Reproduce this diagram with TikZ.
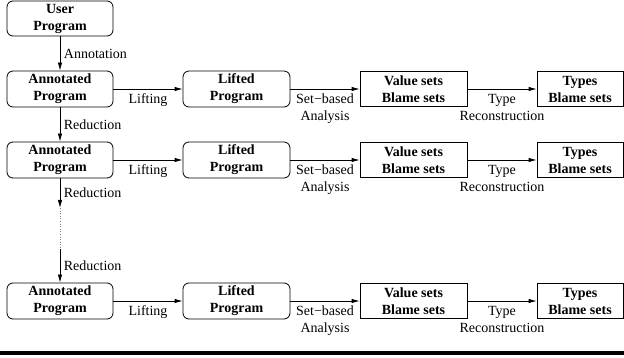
\documentclass[tikz,border=0pt]{standalone}
\usepackage{fontspec}
\setmainfont{Liberation Serif}
\usetikzlibrary{arrows.meta}
\begin{document}
\begin{tikzpicture}[x=1pt,y=-1pt,
  every node/.style={font=\fontsize{14}{17}\selectfont},
  prog/.style={draw, line width=0.8pt, rounded corners=6pt, align=center,
    font=\fontsize{14}{17}\selectfont\bfseries, minimum height=36pt, inner sep=0pt},
  sbox/.style={draw, line width=0.8pt, align=center,
    font=\fontsize{14}{17}\selectfont\bfseries, minimum height=35pt, inner sep=0pt},
  arr/.style={line width=0.8pt, -{Latex[length=8pt,width=4.5pt]}},
  hlbl/.style={below, align=center, inner sep=0pt, yshift=-4.5pt},
  vlbl/.style={right, inner sep=0pt, xshift=3.5pt}]
\useasboundingbox (0,0) rectangle (624,358);

% nodes
\node[prog, minimum width=106pt, minimum height=35pt] (u) at (60,18.5) {User\\Program};
\foreach \r/\y in {1/89, 2/160, 3/301}{
  \node[prog, minimum width=106pt] (a\r) at (60,\y) {Annotated\\Program};
  \node[prog, minimum width=107pt] (l\r) at (236.5,\y) {Lifted\\Program};
  \node[sbox, minimum width=107pt] (v\r) at (413.5,\y) {Value sets\\Blame sets};
  \node[sbox, minimum width=86pt] (t\r) at (580,\y) {Types\\Blame sets};
  \draw[arr] (a\r) -- node[hlbl] (lf\r) {Lifting} (l\r);
  \draw[arr] (l\r) -- node[hlbl] (sb\r) {Set−based\\Analysis} (v\r);
  \draw[arr] (v\r) -- node[hlbl] (tr\r) {Type\\Reconstruction} (t\r);
}

\coordinate (c1) at (60,208);
\coordinate (c2) at (60,249);

\draw[arr] (u) -- node[vlbl] (an) {Annotation} (a1);
\draw[arr] (a1) -- node[vlbl] (rd1) {Reduction} (a2);
\draw[arr] (a2) -- node[vlbl] (rd2) {Reduction} (c1);
\draw[line width=0.6pt, dotted, gray] (c1) -- (c2);
\draw[arr] (c2) -- node[vlbl] (rd3) {Reduction} (a3);

% bottom rule
\fill (0,351) rectangle (624,354.5);
\end{tikzpicture}
\end{document}
